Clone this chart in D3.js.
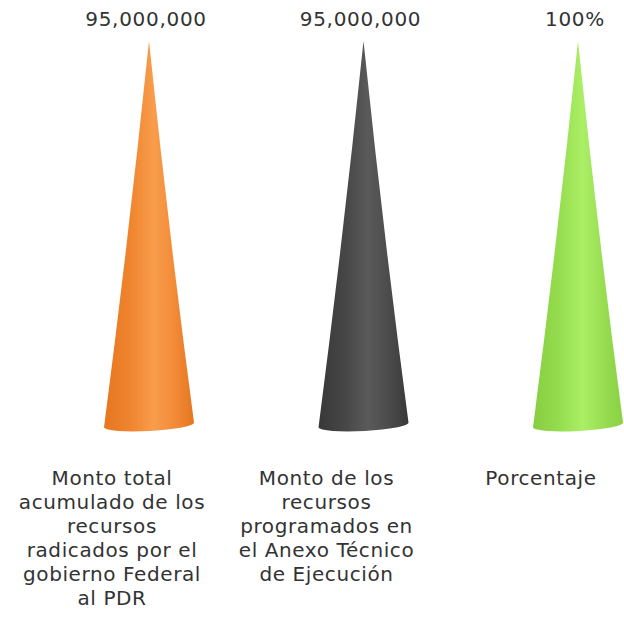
<!DOCTYPE html>
<html><head><meta charset="utf-8">
<script src="https://cdn.jsdelivr.net/npm/d3@7"></script>
<style>body{margin:0;background:#fff}svg{display:block}</style>
</head><body>
<svg id="chart" width="624" height="618"></svg>
<script>
const categories = [
  ["Monto total","acumulado de los","recursos","radicados por el","gobierno Federal","al PDR"],
  ["Monto de los","recursos","programados en","el Anexo Técnico","de Ejecución"],
  ["Porcentaje"]
];
const valueLabels = ["95,000,000","95,000,000","100%"];
const values = [95000000, 95000000, 100];
const units = ["mxn","mxn","pct"];
const unitMax = {mxn: 95000000, pct: 100};
const palettes = [
  ["#e6761f","#f0852f","#f89d4c","#f28936","#e57620"],
  ["#383838","#474747","#5a5a5a","#4a4a4a","#393939"],
  ["#86cd40","#97dd50","#abef66","#97dc50","#89d043"]
];

const svg = d3.select("#chart");
const baseY = 425, topY = 41;
const x = d3.scalePoint().domain(d3.range(categories.length)).range([149, 578]);
const y = {
  mxn: d3.scaleLinear().domain([0, unitMax.mxn]).range([baseY, topY]),
  pct: d3.scaleLinear().domain([0, unitMax.pct]).range([baseY, topY])
};
const r = 45, ry = 6;

const defs = svg.append("defs");
palettes.forEach((p, i) => {
  const g = defs.append("linearGradient").attr("id","g"+i)
    .attr("x1","0").attr("y1","0").attr("x2","1").attr("y2","0");
  [0,0.3,0.55,0.8,1].forEach((o,k)=> g.append("stop").attr("offset",o).attr("stop-color",p[k]));
});

function conePath(cx, yt) {
  const h = baseY - yt;
  const lY = baseY + 2.5, rY = baseY - 2.5;
  return `M${cx},${yt}` +
    `Q${cx - r*0.44},${yt + h*0.5} ${cx - r},${lY}` +
    `A${r},${ry} -3 0 0 ${cx + r},${rY}` +
    `Q${cx + r*0.44},${yt + h*0.5} ${cx},${yt}Z`;
}

values.forEach((v, i) => {
  const cx = x(i);
  const yt = y[units[i]](v);
  svg.append("path").attr("d", conePath(cx, yt)).attr("fill", `url(#g${i})`);
  svg.append("text").attr("x", cx - 3).attr("y", 26)
    .attr("text-anchor","middle").attr("font-family","DejaVu Sans")
    .attr("font-size", 20).attr("letter-spacing", 0.7).attr("fill","#333").text(valueLabels[i]);
  const t = svg.append("text").attr("text-anchor","middle")
    .attr("font-family","DejaVu Sans").attr("font-size", 20)
    .attr("letter-spacing", 0.6).attr("fill","#333");
  categories[i].forEach((line, k) => {
    t.append("tspan").attr("x", cx - 37).attr("y", 485 + k*24).text(line);
  });
});
</script>
</body></html>
